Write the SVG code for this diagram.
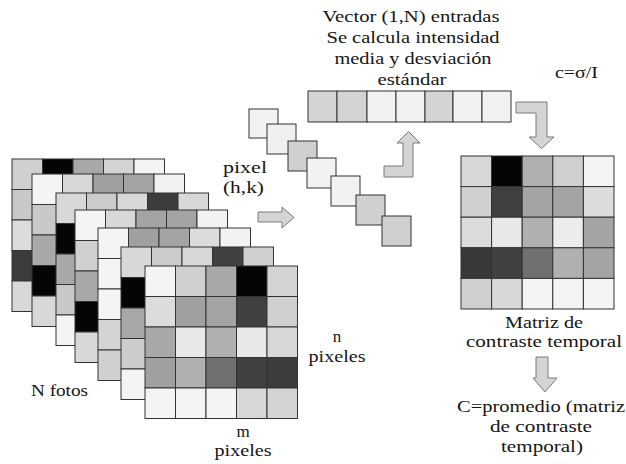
<svg xmlns="http://www.w3.org/2000/svg" width="626" height="464" viewBox="0 0 626 464">
<style>
.t{font-family:"Liberation Serif","Times New Roman",serif;font-size:17px;fill:#151515}
.m{text-anchor:middle}
.c rect{stroke:#333;stroke-width:1}
.bg{stroke:none}
.ar{fill:#d4d4d4;stroke:#7a7a7a;stroke-width:1}
</style>
<rect width="626" height="464" fill="#fff"/>
<g id="fotos">
<g id="foto1" class="c" transform="translate(12,159)">
<rect class="bg" x="30" y="30" width="122" height="122" fill="#d8d8d8"/>
<rect x="0" y="0" width="30.5" height="30.5" fill="#d0d0d0"/><rect x="30.5" y="0" width="30.5" height="30.5" fill="#050505"/><rect x="61" y="0" width="30.5" height="30.5" fill="#a8a8a8"/><rect x="91.5" y="0" width="30.5" height="30.5" fill="#d4d4d4"/><rect x="122" y="0" width="30.5" height="30.5" fill="#f4f4f4"/>
<rect x="0" y="30.5" width="30.5" height="30.5" fill="#c8c8c8"/><rect x="0" y="61" width="30.5" height="30.5" fill="#dcdcdc"/><rect x="0" y="91.5" width="30.5" height="30.5" fill="#3c3c3c"/><rect x="0" y="122" width="30.5" height="30.5" fill="#d8d8d8"/>
</g>
<g id="foto2" class="c" transform="translate(32,174)">
<rect class="bg" x="30" y="30" width="122" height="122" fill="#d8d8d8"/>
<rect x="0" y="0" width="30.5" height="30.5" fill="#f4f4f4"/><rect x="30.5" y="0" width="30.5" height="30.5" fill="#d8d8d8"/><rect x="61" y="0" width="30.5" height="30.5" fill="#a0a0a0"/><rect x="91.5" y="0" width="30.5" height="30.5" fill="#a4a4a4"/><rect x="122" y="0" width="30.5" height="30.5" fill="#f2f2f2"/>
<rect x="0" y="30.5" width="30.5" height="30.5" fill="#c8c8c8"/><rect x="0" y="61" width="30.5" height="30.5" fill="#a8a8a8"/><rect x="0" y="91.5" width="30.5" height="30.5" fill="#050505"/><rect x="0" y="122" width="30.5" height="30.5" fill="#d8d8d8"/>
</g>
<g id="foto3" class="c" transform="translate(56,193)">
<rect class="bg" x="30" y="30" width="122" height="122" fill="#d8d8d8"/>
<rect x="0" y="0" width="30.5" height="30.5" fill="#d8d8d8"/><rect x="30.5" y="0" width="30.5" height="30.5" fill="#cccccc"/><rect x="61" y="0" width="30.5" height="30.5" fill="#d8d8d8"/><rect x="91.5" y="0" width="30.5" height="30.5" fill="#3c3c3c"/><rect x="122" y="0" width="30.5" height="30.5" fill="#d8d8d8"/>
<rect x="0" y="30.5" width="30.5" height="30.5" fill="#050505"/><rect x="0" y="61" width="30.5" height="30.5" fill="#a8a8a8"/><rect x="0" y="91.5" width="30.5" height="30.5" fill="#c8c8c8"/><rect x="0" y="122" width="30.5" height="30.5" fill="#f4f4f4"/>
</g>
<g id="foto4" class="c" transform="translate(75,210)">
<rect class="bg" x="30" y="30" width="122" height="122" fill="#d8d8d8"/>
<rect x="0" y="0" width="30.5" height="30.5" fill="#f4f4f4"/><rect x="30.5" y="0" width="30.5" height="30.5" fill="#d8d8d8"/><rect x="61" y="0" width="30.5" height="30.5" fill="#a4a4a4"/><rect x="91.5" y="0" width="30.5" height="30.5" fill="#a4a4a4"/><rect x="122" y="0" width="30.5" height="30.5" fill="#f2f2f2"/>
<rect x="0" y="30.5" width="30.5" height="30.5" fill="#d0d0d0"/><rect x="0" y="61" width="30.5" height="30.5" fill="#a8a8a8"/><rect x="0" y="91.5" width="30.5" height="30.5" fill="#050505"/><rect x="0" y="122" width="30.5" height="30.5" fill="#d8d8d8"/>
</g>
<g id="foto5" class="c" transform="translate(98,228)">
<rect class="bg" x="30" y="30" width="122" height="122" fill="#d8d8d8"/>
<rect x="0" y="0" width="30.5" height="30.5" fill="#f4f4f4"/><rect x="30.5" y="0" width="30.5" height="30.5" fill="#a0a0a0"/><rect x="61" y="0" width="30.5" height="30.5" fill="#a4a4a4"/><rect x="91.5" y="0" width="30.5" height="30.5" fill="#dcdcdc"/><rect x="122" y="0" width="30.5" height="30.5" fill="#f2f2f2"/>
<rect x="0" y="30.5" width="30.5" height="30.5" fill="#f4f4f4"/><rect x="0" y="61" width="30.5" height="30.5" fill="#f4f4f4"/><rect x="0" y="91.5" width="30.5" height="30.5" fill="#d4d4d4"/><rect x="0" y="122" width="30.5" height="30.5" fill="#d0d0d0"/>
</g>
<g id="foto6" class="c" transform="translate(121,247)">
<rect class="bg" x="30" y="30" width="122" height="122" fill="#d8d8d8"/>
<rect x="0" y="0" width="30.5" height="30.5" fill="#d8d8d8"/><rect x="30.5" y="0" width="30.5" height="30.5" fill="#cccccc"/><rect x="61" y="0" width="30.5" height="30.5" fill="#d8d8d8"/><rect x="91.5" y="0" width="30.5" height="30.5" fill="#404040"/><rect x="122" y="0" width="30.5" height="30.5" fill="#d0d0d0"/>
<rect x="0" y="30.5" width="30.5" height="30.5" fill="#050505"/><rect x="0" y="61" width="30.5" height="30.5" fill="#a8a8a8"/><rect x="0" y="91.5" width="30.5" height="30.5" fill="#cccccc"/><rect x="0" y="122" width="30.5" height="30.5" fill="#f4f4f4"/>
</g>
<g id="foto7" class="c" transform="translate(145,266)">
<rect x="0" y="0" width="30.5" height="30.5" fill="#f4f4f4"/><rect x="30.5" y="0" width="30.5" height="30.5" fill="#d0d0d0"/><rect x="61" y="0" width="30.5" height="30.5" fill="#a8a8a8"/><rect x="91.5" y="0" width="30.5" height="30.5" fill="#050505"/><rect x="122" y="0" width="30.5" height="30.5" fill="#d4d4d4"/>
<rect x="0" y="30.5" width="30.5" height="30.5" fill="#dcdcdc"/><rect x="30.5" y="30.5" width="30.5" height="30.5" fill="#a0a0a0"/><rect x="61" y="30.5" width="30.5" height="30.5" fill="#a4a4a4"/><rect x="91.5" y="30.5" width="30.5" height="30.5" fill="#404040"/><rect x="122" y="30.5" width="30.5" height="30.5" fill="#d0d0d0"/>
<rect x="0" y="61" width="30.5" height="30.5" fill="#a8a8a8"/><rect x="30.5" y="61" width="30.5" height="30.5" fill="#e8e8e8"/><rect x="61" y="61" width="30.5" height="30.5" fill="#b0b0b0"/><rect x="91.5" y="61" width="30.5" height="30.5" fill="#e8e8e8"/><rect x="122" y="61" width="30.5" height="30.5" fill="#d8d8d8"/>
<rect x="0" y="91.5" width="30.5" height="30.5" fill="#a0a0a0"/><rect x="30.5" y="91.5" width="30.5" height="30.5" fill="#b0b0b0"/><rect x="61" y="91.5" width="30.5" height="30.5" fill="#707070"/><rect x="91.5" y="91.5" width="30.5" height="30.5" fill="#404040"/><rect x="122" y="91.5" width="30.5" height="30.5" fill="#3c3c3c"/>
<rect x="0" y="122" width="30.5" height="30.5" fill="#f4f4f4"/><rect x="30.5" y="122" width="30.5" height="30.5" fill="#f4f4f4"/><rect x="61" y="122" width="30.5" height="30.5" fill="#f4f4f4"/><rect x="91.5" y="122" width="30.5" height="30.5" fill="#d8d8d8"/><rect x="122" y="122" width="30.5" height="30.5" fill="#d4d4d4"/>
</g>
</g>
<g id="pixeles" class="c">
<rect x="249" y="109" width="29" height="29" fill="#f2f2f2"/>
<rect x="267" y="124" width="29" height="30" fill="#f0f0f0"/>
<rect x="288" y="141" width="29" height="30" fill="#d0d0d0"/>
<rect x="307" y="158" width="29" height="30" fill="#f2f2f2"/>
<rect x="331" y="176" width="29" height="30" fill="#f2f2f2"/>
<rect x="356" y="195" width="29" height="30" fill="#d0d0d0"/>
<rect x="382" y="216" width="29" height="30" fill="#d0d0d0"/>
</g>
<g id="vector" class="c">
<rect x="308" y="91" width="29" height="31" fill="#d4d4d4"/>
<rect x="337" y="91" width="30" height="31" fill="#d4d4d4"/>
<rect x="367" y="91" width="29" height="31" fill="#f2f2f2"/>
<rect x="396" y="91" width="29" height="31" fill="#f2f2f2"/>
<rect x="425" y="91" width="28" height="31" fill="#d4d4d4"/>
<rect x="453" y="91" width="29" height="31" fill="#f2f2f2"/>
<rect x="482" y="91" width="29" height="31" fill="#f2f2f2"/>
</g>
<g id="matriz" class="c" transform="translate(461,156)">
<rect x="0" y="0" width="30.6" height="30.6" fill="#d8d8d8"/><rect x="30.6" y="0" width="30.6" height="30.6" fill="#050505"/><rect x="61.2" y="0" width="30.6" height="30.6" fill="#b0b0b0"/><rect x="91.8" y="0" width="30.6" height="30.6" fill="#d0d0d0"/><rect x="122.4" y="0" width="30.6" height="30.6" fill="#f4f4f4"/>
<rect x="0" y="30.6" width="30.6" height="30.6" fill="#d0d0d0"/><rect x="30.6" y="30.6" width="30.6" height="30.6" fill="#404040"/><rect x="61.2" y="30.6" width="30.6" height="30.6" fill="#a4a4a4"/><rect x="91.8" y="30.6" width="30.6" height="30.6" fill="#a4a4a4"/><rect x="122.4" y="30.6" width="30.6" height="30.6" fill="#dcdcdc"/>
<rect x="0" y="61.2" width="30.6" height="30.6" fill="#dcdcdc"/><rect x="30.6" y="61.2" width="30.6" height="30.6" fill="#e8e8e8"/><rect x="61.2" y="61.2" width="30.6" height="30.6" fill="#b0b0b0"/><rect x="91.8" y="61.2" width="30.6" height="30.6" fill="#ececec"/><rect x="122.4" y="61.2" width="30.6" height="30.6" fill="#a4a4a4"/>
<rect x="0" y="91.8" width="30.6" height="30.6" fill="#383838"/><rect x="30.6" y="91.8" width="30.6" height="30.6" fill="#404040"/><rect x="61.2" y="91.8" width="30.6" height="30.6" fill="#707070"/><rect x="91.8" y="91.8" width="30.6" height="30.6" fill="#b0b0b0"/><rect x="122.4" y="91.8" width="30.6" height="30.6" fill="#a4a4a4"/>
<rect x="0" y="122.4" width="30.6" height="30.6" fill="#d0d0d0"/><rect x="30.6" y="122.4" width="30.6" height="30.6" fill="#d8d8d8"/><rect x="61.2" y="122.4" width="30.6" height="30.6" fill="#f4f4f4"/><rect x="91.8" y="122.4" width="30.6" height="30.6" fill="#f4f4f4"/><rect x="122.4" y="122.4" width="30.6" height="30.6" fill="#f4f4f4"/>
</g>
<g id="connectors">
<path class="ar" d="M258,212 H282 V207 L294,217.5 L282,228 V222 H258 Z"/>
<path class="ar" d="M384,166 H403 V143 H397 L408.5,131.5 L420,143 H413 V177 H384 Z"/>
<path class="ar" d="M516,102 H547 V137 H554 L541.5,148.5 L529,137 H536 V113 H516 Z"/>
<path class="ar" d="M536,357 H548 V378 H557 L545,392 L533,378 H536 Z"/>
</g>
<g id="textos" class="t">
<text class="m" x="411" y="22" textLength="177" lengthAdjust="spacingAndGlyphs">Vector (1,N) entradas</text>
<text class="m" x="413" y="43" textLength="173" lengthAdjust="spacingAndGlyphs">Se calcula intensidad</text>
<text class="m" x="413" y="64" textLength="157" lengthAdjust="spacingAndGlyphs">media y desviación</text>
<text class="m" x="412" y="85" textLength="69" lengthAdjust="spacingAndGlyphs">estándar</text>
<text x="555" y="78" textLength="43" lengthAdjust="spacingAndGlyphs">c=σ/I</text>
<text x="223" y="173" textLength="44" lengthAdjust="spacingAndGlyphs">pixel</text>
<text x="223" y="193" textLength="41" lengthAdjust="spacingAndGlyphs">(h,k)</text>
<text x="31" y="396" textLength="57" lengthAdjust="spacingAndGlyphs">N fotos</text>
<text class="m" x="337" y="342">n</text>
<text class="m" x="337" y="362" textLength="57" lengthAdjust="spacingAndGlyphs">pixeles</text>
<text class="m" x="243" y="437">m</text>
<text class="m" x="243" y="456" textLength="57" lengthAdjust="spacingAndGlyphs">pixeles</text>
<text class="m" x="544" y="328" textLength="78" lengthAdjust="spacingAndGlyphs">Matriz de</text>
<text class="m" x="544" y="347" textLength="156" lengthAdjust="spacingAndGlyphs">contraste temporal</text>
<text x="457" y="412" textLength="168" lengthAdjust="spacingAndGlyphs">C=promedio (matriz</text>
<text class="m" x="541" y="432" textLength="102" lengthAdjust="spacingAndGlyphs">de contraste</text>
<text class="m" x="542" y="452" textLength="82" lengthAdjust="spacingAndGlyphs">temporal)</text>
</g>
</svg>
